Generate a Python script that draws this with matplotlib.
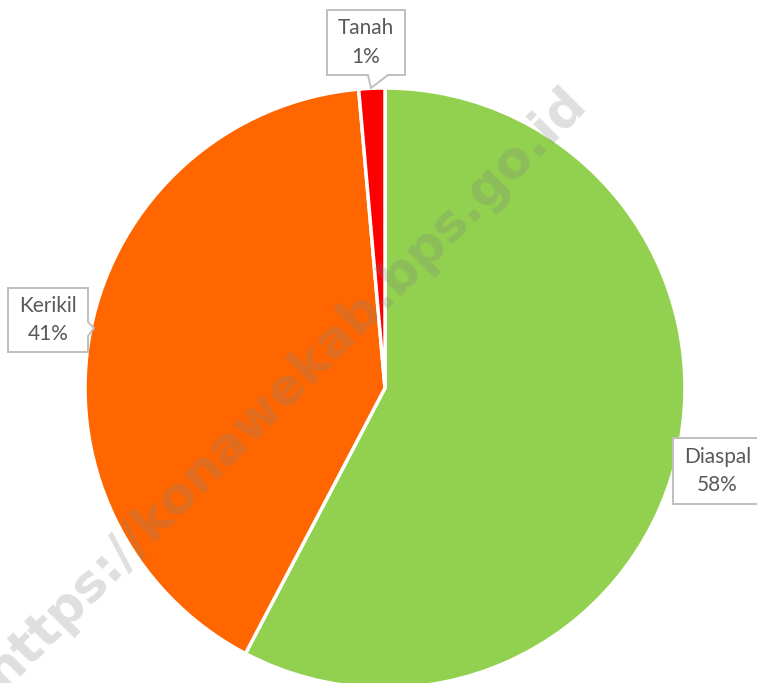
import matplotlib.pyplot as plt
from matplotlib.patches import Polygon

labels = ["Diaspal", "Kerikil", "Tanah"]
shares = [57.7, 40.9, 1.4]
colors = ["#92D050", "#FF6600", "#FF0000"]
pct_text = ["58%", "41%", "1%"]

# pixel scale: pie radius of 1 is 300 px
PX = 1 / 300.0


def px(x, y):
    """Reference pixel position -> data coords (pie centre at 385, 388)."""
    return ((x - 385) * PX, (388 - y) * PX)


def callout(ax, box, pointer=None):
    """Draw a callout box (x0, y0, x1, y1 in px) with an optional pointer.

    pointer = (side, base_a, base_b, tip) with the base given along the side.
    """
    x0, y0, x1, y1 = box
    if pointer is None:
        pts = [(x0, y0), (x1, y0), (x1, y1), (x0, y1)]
    elif pointer[0] == "bottom":
        _, a, b, tip = pointer
        pts = [(x0, y0), (x1, y0), (x1, y1), (b, y1), tip, (a, y1), (x0, y1)]
    else:  # right
        _, a, b, tip = pointer
        pts = [(x0, y0), (x1, y0), (x1, a), tip, (x1, b), (x1, y1), (x0, y1)]
    poly = Polygon([px(*p) for p in pts], closed=True, fc="white",
                   ec="#BFBFBF", lw=1.4, zorder=4)
    ax.add_patch(poly)
    return px((x0 + x1) / 2, (y0 + y1) / 2)


fig = plt.figure(figsize=(7.57, 6.83), dpi=100)
ax = fig.add_axes([0, 0, 1, 1])

ax.pie(
    shares,
    colors=colors,
    startangle=90,
    counterclock=False,
    radius=1.0,
    wedgeprops=dict(edgecolor="white", linewidth=2.5),
)

boxes = [
    ((673, 438, 762, 504), None),
    ((8, 288, 88, 352), ("right", 322, 336, (94, 328))),
    ((327, 10, 405, 75), ("bottom", 368, 388, (371, 88))),
]

for name, pct, (box, ptr) in zip(labels, pct_text, boxes):
    cx, cy = callout(ax, box, ptr)
    ax.text(cx, cy, f"{name}\n{pct}", ha="center", va="center",
            fontsize=15, color="#595959", family="Lato",
            linespacing=1.55, zorder=5)

# watermark
ax.text(-0.33, 0.0, "https://konawekab.bps.go.id", rotation=45,
        ha="center", va="center", fontsize=37, fontweight="bold",
        color="#808080", alpha=0.25, family="DejaVu Sans", zorder=6)

ax.set_xlim(-385 * PX, 372 * PX)
ax.set_ylim(-295 * PX, 388 * PX)
ax.set_aspect("equal")
ax.axis("off")

fig.savefig("out.png", dpi=100, facecolor="white")
